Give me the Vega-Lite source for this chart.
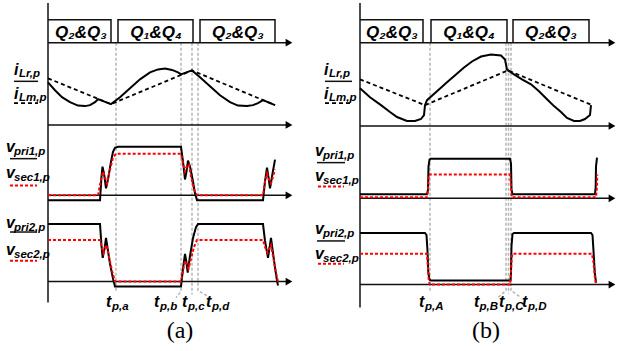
{
"$schema": "https://vega.github.io/schema/vega-lite/v6.json",
"width": 634, "height": 351,
"autosize": {"type": "fit", "contains": "padding"},
"padding": 0,
"background": "white",
"config": {"view": {"stroke": null}},
"datasets": {
"grey": [
{"s":"g1","x":116,"y":40},{"s":"g1","x":116,"y":292},
{"s":"g2","x":181,"y":40},{"s":"g2","x":181,"y":291},{"s":"g2","x":176,"y":297},
{"s":"g3","x":192,"y":40},{"s":"g3","x":192,"y":294},
{"s":"g4","x":198,"y":40},{"s":"g4","x":198,"y":290},{"s":"g4","x":210,"y":297},
{"s":"h1","x":430,"y":40},{"s":"h1","x":430,"y":292},
{"s":"h2","x":506,"y":40},{"s":"h2","x":506,"y":290},{"s":"h2","x":498,"y":297},
{"s":"h3","x":508.5,"y":40},{"s":"h3","x":508.5,"y":293},
{"s":"h4","x":511,"y":40},{"s":"h4","x":511,"y":290},{"s":"h4","x":521,"y":297}
],
"frame": [
{"s":"va","x":48,"y":0},{"s":"va","x":48,"y":302},
{"s":"ha1","x":48,"y":40},{"s":"ha1","x":287,"y":40},
{"s":"ha2","x":48,"y":123},{"s":"ha2","x":287,"y":123},
{"s":"ha3","x":48,"y":194},{"s":"ha3","x":287,"y":194},
{"s":"ha4","x":48,"y":281},{"s":"ha4","x":287,"y":281},
{"s":"ba1","x":48,"y":17},{"s":"ba1","x":111,"y":17},{"s":"ba1","x":111,"y":40},
{"s":"ba2","x":118,"y":40},{"s":"ba2","x":118,"y":17},{"s":"ba2","x":193,"y":17},{"s":"ba2","x":193,"y":40},
{"s":"ba3","x":200,"y":40},{"s":"ba3","x":200,"y":17},{"s":"ba3","x":275,"y":17},{"s":"ba3","x":275,"y":40},
{"s":"vb","x":360,"y":0},{"s":"vb","x":360,"y":307},
{"s":"hb1","x":360,"y":40},{"s":"hb1","x":612,"y":40},
{"s":"hb2","x":360,"y":124},{"s":"hb2","x":612,"y":124},
{"s":"hb3","x":360,"y":197},{"s":"hb3","x":612,"y":197},
{"s":"hb4","x":360,"y":284},{"s":"hb4","x":612,"y":284},
{"s":"bb1","x":360,"y":17},{"s":"bb1","x":423,"y":17},{"s":"bb1","x":423,"y":40},
{"s":"bb2","x":431,"y":40},{"s":"bb2","x":431,"y":17},{"s":"bb2","x":507,"y":17},{"s":"bb2","x":507,"y":40},
{"s":"bb3","x":513,"y":40},{"s":"bb3","x":513,"y":17},{"s":"bb3","x":589,"y":17},{"s":"bb3","x":589,"y":40},
{"s":"u1","x":14,"y":79},{"s":"u1","x":38,"y":79},
{"s":"u2","x":10,"y":157},{"s":"u2","x":37,"y":157},
{"s":"u3","x":10,"y":231},{"s":"u3","x":37,"y":231},
{"s":"u4","x":325,"y":79},{"s":"u4","x":352,"y":79},
{"s":"u5","x":317,"y":161},{"s":"u5","x":345,"y":161},
{"s":"u6","x":317,"y":240},{"s":"u6","x":345,"y":240}
],
"wave": [
{"s":"ia","x":48,"y":80},{"s":"ia","x":55,"y":88},{"s":"ia","x":62,"y":95},{"s":"ia","x":70,"y":100},{"s":"ia","x":78,"y":103.5},{"s":"ia","x":85,"y":104},{"s":"ia","x":90,"y":103},{"s":"ia","x":95,"y":100},{"s":"ia","x":98,"y":97},{"s":"ia","x":111,"y":102},{"s":"ia","x":120,"y":95},{"s":"ia","x":130,"y":86},{"s":"ia","x":140,"y":77},{"s":"ia","x":150,"y":70},{"s":"ia","x":158,"y":67},{"s":"ia","x":165,"y":66},{"s":"ia","x":172,"y":67.5},{"s":"ia","x":178,"y":70},{"s":"ia","x":181,"y":72},{"s":"ia","x":192,"y":68},{"s":"ia","x":200,"y":75},{"s":"ia","x":210,"y":84},{"s":"ia","x":220,"y":93},{"s":"ia","x":230,"y":100},{"s":"ia","x":238,"y":103.5},{"s":"ia","x":247,"y":104},{"s":"ia","x":253,"y":103},{"s":"ia","x":258,"y":101},{"s":"ia","x":263,"y":98},{"s":"ia","x":275,"y":103},
{"s":"ib","x":360,"y":86},{"s":"ib","x":370,"y":95},{"s":"ib","x":381,"y":103},{"s":"ib","x":390,"y":110},{"s":"ib","x":397,"y":115},{"s":"ib","x":407,"y":119},{"s":"ib","x":415,"y":119},{"s":"ib","x":421,"y":117},{"s":"ib","x":424,"y":113},{"s":"ib","x":425,"y":103},{"s":"ib","x":427,"y":98},{"s":"ib","x":437,"y":89},{"s":"ib","x":447,"y":80},{"s":"ib","x":456,"y":72},{"s":"ib","x":464,"y":65},{"s":"ib","x":472,"y":59},{"s":"ib","x":481,"y":54},{"s":"ib","x":491,"y":52},{"s":"ib","x":501,"y":53},{"s":"ib","x":505,"y":57},{"s":"ib","x":507,"y":67},{"s":"ib","x":508,"y":68},{"s":"ib","x":514,"y":72},{"s":"ib","x":522,"y":77},{"s":"ib","x":531,"y":82},{"s":"ib","x":539,"y":89},{"s":"ib","x":547,"y":97},{"s":"ib","x":554,"y":104},{"s":"ib","x":561,"y":110},{"s":"ib","x":567,"y":116},{"s":"ib","x":574,"y":119},{"s":"ib","x":580,"y":119},{"s":"ib","x":585,"y":117},{"s":"ib","x":590,"y":113},{"s":"ib","x":591,"y":103},
{"s":"p1a","x":48,"y":199},{"s":"p1a","x":100,"y":199},{"s":"p1a","x":101.5,"y":175},{"s":"p1a","x":102.5,"y":165},{"s":"p1a","x":104,"y":172},{"s":"p1a","x":106,"y":187},{"s":"p1a","x":108,"y":178},{"s":"p1a","x":111,"y":160},{"s":"p1a","x":113,"y":150},{"s":"p1a","x":115,"y":146},{"s":"p1a","x":118,"y":145},{"s":"p1a","x":181,"y":145},{"s":"p1a","x":183,"y":160},{"s":"p1a","x":185,"y":178},{"s":"p1a","x":186.5,"y":170},{"s":"p1a","x":188,"y":159},{"s":"p1a","x":190,"y":165},{"s":"p1a","x":193,"y":180},{"s":"p1a","x":195,"y":192},{"s":"p1a","x":197,"y":199},{"s":"p1a","x":263,"y":199},{"s":"p1a","x":265,"y":180},{"s":"p1a","x":267,"y":166},{"s":"p1a","x":268.5,"y":176},{"s":"p1a","x":270,"y":187},{"s":"p1a","x":272,"y":175},{"s":"p1a","x":275,"y":158},
{"s":"p2a","x":48,"y":223},{"s":"p2a","x":100,"y":223},{"s":"p2a","x":101.5,"y":245},{"s":"p2a","x":102.7,"y":257},{"s":"p2a","x":104.5,"y":248},{"s":"p2a","x":106,"y":237},{"s":"p2a","x":108,"y":250},{"s":"p2a","x":110,"y":263},{"s":"p2a","x":113,"y":278},{"s":"p2a","x":115,"y":286},{"s":"p2a","x":181,"y":286},{"s":"p2a","x":183,"y":268},{"s":"p2a","x":185,"y":253},{"s":"p2a","x":186.5,"y":262},{"s":"p2a","x":187.7,"y":272},{"s":"p2a","x":190,"y":255},{"s":"p2a","x":193,"y":237},{"s":"p2a","x":196,"y":226},{"s":"p2a","x":198,"y":223},{"s":"p2a","x":263,"y":223},{"s":"p2a","x":265,"y":240},{"s":"p2a","x":268,"y":257},{"s":"p2a","x":269.5,"y":247},{"s":"p2a","x":271,"y":237},{"s":"p2a","x":273,"y":252},{"s":"p2a","x":275,"y":267},{"s":"p2a","x":277,"y":280},{"s":"p2a","x":278,"y":285},
{"s":"p1b","x":360,"y":193},{"s":"p1b","x":427,"y":193},{"s":"p1b","x":428,"y":188},{"s":"p1b","x":428.5,"y":165},{"s":"p1b","x":429.5,"y":158},{"s":"p1b","x":431,"y":157},{"s":"p1b","x":510,"y":157},{"s":"p1b","x":511,"y":162},{"s":"p1b","x":511.5,"y":188},{"s":"p1b","x":512.5,"y":193},{"s":"p1b","x":595,"y":193},{"s":"p1b","x":595.7,"y":185},{"s":"p1b","x":596,"y":165},{"s":"p1b","x":597,"y":156},
{"s":"p2b","x":360,"y":232},{"s":"p2b","x":425,"y":232},{"s":"p2b","x":426.5,"y":234},{"s":"p2b","x":427.5,"y":250},{"s":"p2b","x":428.3,"y":272},{"s":"p2b","x":429.5,"y":279},{"s":"p2b","x":431,"y":280},{"s":"p2b","x":510.5,"y":280},{"s":"p2b","x":511,"y":272},{"s":"p2b","x":511.5,"y":245},{"s":"p2b","x":512.5,"y":233},{"s":"p2b","x":514,"y":232},{"s":"p2b","x":591,"y":232},{"s":"p2b","x":592.5,"y":234},{"s":"p2b","x":593.5,"y":250},{"s":"p2b","x":594.8,"y":272},{"s":"p2b","x":596,"y":282}
],
"bdash": [
{"s":"ma","x":48,"y":76},{"s":"ma","x":111,"y":102},{"s":"ma","x":192,"y":68},{"s":"ma","x":275,"y":103},
{"s":"mb","x":360,"y":77},{"s":"mb","x":425,"y":103},{"s":"mb","x":508,"y":68},{"s":"mb","x":592,"y":103},
{"s":"ua","x":14,"y":101},{"s":"ua","x":38,"y":101},
{"s":"ub","x":325,"y":101},{"s":"ub","x":352,"y":101}
],
"rdash": [
{"s":"s1a","x":48,"y":194},{"s":"s1a","x":98,"y":194},{"s":"s1a","x":101,"y":178},{"s":"s1a","x":103,"y":170},{"s":"s1a","x":105,"y":176},{"s":"s1a","x":107,"y":182},{"s":"s1a","x":110,"y":168},{"s":"s1a","x":113,"y":156},{"s":"s1a","x":116,"y":152},{"s":"s1a","x":181,"y":152},{"s":"s1a","x":183,"y":162},{"s":"s1a","x":185,"y":170},{"s":"s1a","x":187,"y":164},{"s":"s1a","x":189,"y":163},{"s":"s1a","x":191,"y":175},{"s":"s1a","x":194,"y":188},{"s":"s1a","x":197,"y":194},{"s":"s1a","x":263,"y":194},{"s":"s1a","x":265,"y":180},{"s":"s1a","x":267,"y":172},{"s":"s1a","x":269,"y":178},{"s":"s1a","x":271,"y":182},{"s":"s1a","x":273,"y":175},{"s":"s1a","x":275,"y":168},
{"s":"s2a","x":48,"y":239},{"s":"s2a","x":100,"y":239},{"s":"s2a","x":102,"y":247},{"s":"s2a","x":103.5,"y":252},{"s":"s2a","x":105,"y":247},{"s":"s2a","x":106.5,"y":244},{"s":"s2a","x":109,"y":256},{"s":"s2a","x":112,"y":270},{"s":"s2a","x":115,"y":281},{"s":"s2a","x":181,"y":281},{"s":"s2a","x":183,"y":270},{"s":"s2a","x":185,"y":260},{"s":"s2a","x":187,"y":264},{"s":"s2a","x":188.5,"y":268},{"s":"s2a","x":191,"y":258},{"s":"s2a","x":194,"y":246},{"s":"s2a","x":197,"y":239},{"s":"s2a","x":263,"y":239},{"s":"s2a","x":265,"y":246},{"s":"s2a","x":267.5,"y":252},{"s":"s2a","x":269.5,"y":247},{"s":"s2a","x":271,"y":244},{"s":"s2a","x":273.5,"y":258},{"s":"s2a","x":276,"y":272},{"s":"s2a","x":278,"y":281},
{"s":"s1b","x":360,"y":196},{"s":"s1b","x":427,"y":196},{"s":"s1b","x":428,"y":190},{"s":"s1b","x":428.7,"y":173},{"s":"s1b","x":510,"y":173},{"s":"s1b","x":511,"y":185},{"s":"s1b","x":511.7,"y":196},{"s":"s1b","x":596,"y":196},{"s":"s1b","x":597,"y":185},{"s":"s1b","x":597.3,"y":173},
{"s":"s2b","x":360,"y":253},{"s":"s2b","x":427,"y":253},{"s":"s2b","x":427.8,"y":265},{"s":"s2b","x":428.8,"y":280},{"s":"s2b","x":430,"y":284},{"s":"s2b","x":510,"y":284},{"s":"s2b","x":510.8,"y":275},{"s":"s2b","x":511.5,"y":260},{"s":"s2b","x":512.3,"y":253},{"s":"s2b","x":592,"y":253},{"s":"s2b","x":593.5,"y":262},{"s":"s2b","x":594.8,"y":276},{"s":"s2b","x":596,"y":284},
{"s":"r1","x":10,"y":184},{"s":"r1","x":37,"y":184},
{"s":"r2","x":10,"y":260},{"s":"r2","x":37,"y":260},
{"s":"r3","x":318,"y":185},{"s":"r3","x":344,"y":185},
{"s":"r4","x":318,"y":263},{"s":"r4","x":344,"y":263}
],
"arrows": [
{"x":289,"y":40},{"x":289,"y":123},{"x":289,"y":194},{"x":289,"y":281},
{"x":612,"y":40},{"x":612,"y":124},{"x":612,"y":197},{"x":612,"y":284}
],
"main": [
{"t":"i","x":14,"y":73},{"t":"i","x":14,"y":97},{"t":"v","x":6,"y":150},{"t":"v","x":6,"y":177},{"t":"v","x":6,"y":227},{"t":"v","x":6,"y":254},
{"t":"t","x":106,"y":307},{"t":"t","x":154,"y":307},{"t":"t","x":182,"y":307},{"t":"t","x":206,"y":307},
{"t":"i","x":324,"y":73},{"t":"i","x":324,"y":97},{"t":"v","x":315,"y":154},{"t":"v","x":315,"y":180},{"t":"v","x":315,"y":233},{"t":"v","x":315,"y":258},
{"t":"t","x":419,"y":307},{"t":"t","x":474,"y":307},{"t":"t","x":499,"y":307},{"t":"t","x":522,"y":307}
],
"sub": [
{"t":"Lr,p","x":19,"y":75},{"t":"Lm,p","x":19,"y":99},{"t":"pri1,p","x":14,"y":153},{"t":"sec1,p","x":14,"y":180},{"t":"pri2,p","x":14,"y":230},{"t":"sec2,p","x":14,"y":257},
{"t":"p,a","x":112,"y":310},{"t":"p,b","x":160,"y":310},{"t":"p,c","x":188,"y":310},{"t":"p,d","x":212,"y":310},
{"t":"Lr,p","x":329,"y":75},{"t":"Lm,p","x":329,"y":99},{"t":"pri1,p","x":323,"y":157},{"t":"sec1,p","x":323,"y":183},{"t":"pri2,p","x":323,"y":236},{"t":"sec2,p","x":323,"y":261},
{"t":"p,A","x":425,"y":310},{"t":"p,B","x":479.5,"y":310},{"t":"p,C","x":505,"y":310},{"t":"p,D","x":528,"y":310}
],
"q": [
{"t":"Q₂&Q₃","x":81,"y":35},{"t":"Q₁&Q₄","x":156,"y":35},{"t":"Q₂&Q₃","x":238,"y":35},
{"t":"Q₂&Q₃","x":392,"y":35},{"t":"Q₁&Q₄","x":469,"y":35},{"t":"Q₂&Q₃","x":551,"y":35}
],
"cap": [
{"t":"(a)","x":180,"y":338},{"t":"(b)","x":486,"y":338}
]
},
"encoding": {
"x": {"field": "x", "type": "quantitative", "scale": {"domain": [0, 634], "nice": false, "zero": false}, "axis": null},
"y": {"field": "y", "type": "quantitative", "scale": {"domain": [0, 351], "reverse": true, "nice": false, "zero": false}, "axis": null}
},
"layer": [
{"data": {"name": "grey"}, "mark": {"type": "line", "stroke": "#b5b5b5", "strokeWidth": 1.5, "strokeDash": [3, 2]}, "encoding": {"detail": {"field": "s"}, "order": {"value": null}}},
{"data": {"name": "frame"}, "mark": {"type": "line", "stroke": "#111111", "strokeWidth": 1.5}, "encoding": {"detail": {"field": "s"}, "order": {"value": null}}},
{"data": {"name": "wave"}, "mark": {"type": "line", "stroke": "#000000", "strokeWidth": 2}, "encoding": {"detail": {"field": "s"}, "order": {"value": null}}},
{"data": {"name": "bdash"}, "mark": {"type": "line", "stroke": "#000000", "strokeWidth": 1.8, "strokeDash": [4, 3]}, "encoding": {"detail": {"field": "s"}, "order": {"value": null}}},
{"data": {"name": "rdash"}, "mark": {"type": "line", "stroke": "#ff0000", "strokeWidth": 2, "strokeDash": [3, 2]}, "encoding": {"detail": {"field": "s"}, "order": {"value": null}}},
{"data": {"name": "arrows"}, "mark": {"type": "point", "shape": "triangle-right", "filled": true, "fill": "#000000", "size": 60, "opacity": 1}},
{"data": {"name": "main"}, "mark": {"type": "text", "font": "Liberation Sans, Arial", "fontSize": 16, "fontStyle": "italic", "fontWeight": "bold", "align": "left", "baseline": "alphabetic", "color": "#000000"}, "encoding": {"text": {"field": "t"}}},
{"data": {"name": "sub"}, "mark": {"type": "text", "font": "Liberation Sans, Arial", "fontSize": 11.5, "fontStyle": "italic", "fontWeight": "bold", "align": "left", "baseline": "alphabetic", "color": "#000000"}, "encoding": {"text": {"field": "t"}}},
{"data": {"name": "q"}, "mark": {"type": "text", "font": "Liberation Sans, Arial", "fontSize": 17, "fontStyle": "italic", "fontWeight": "bold", "align": "center", "baseline": "alphabetic", "color": "#000000"}, "encoding": {"text": {"field": "t"}}},
{"data": {"name": "cap"}, "mark": {"type": "text", "font": "Liberation Serif, Times New Roman", "fontSize": 24, "align": "center", "baseline": "alphabetic", "color": "#000000"}, "encoding": {"text": {"field": "t"}}}
]
}
